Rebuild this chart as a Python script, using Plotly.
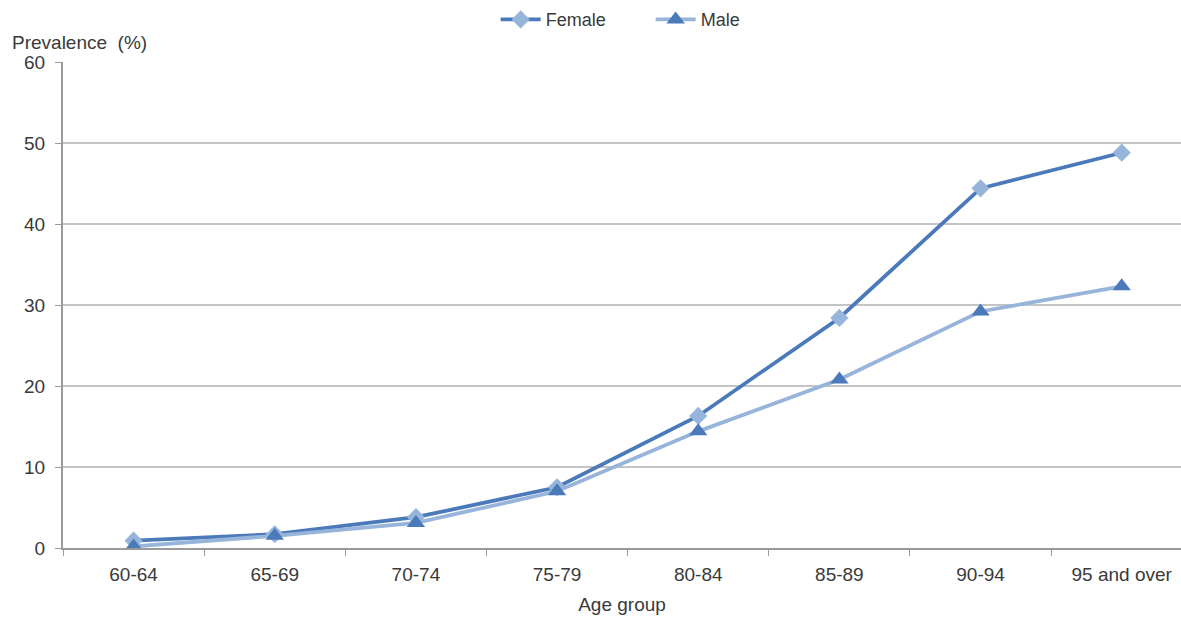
import plotly.graph_objects as go

age_groups = ["60-64", "65-69", "70-74", "75-79", "80-84", "85-89", "90-94", "95 and over"]
female = [0.9, 1.7, 3.8, 7.5, 16.3, 28.4, 44.4, 48.8]
male = [0.2, 1.5, 3.1, 7.0, 14.4, 20.8, 29.2, 32.3]

DARK = "#4a7aba"
LIGHT = "#97b5da"
FONT = "Liberation Sans, Arial, sans-serif"

fig = go.Figure()
fig.add_trace(go.Scatter(
    x=age_groups, y=female, name="Female", mode="lines+markers",
    line=dict(color=DARK, width=3.8),
    marker=dict(symbol="diamond", size=14, color=LIGHT),
))
fig.add_trace(go.Scatter(
    x=age_groups, y=male, name="Male", mode="lines+markers",
    line=dict(color=LIGHT, width=3.8),
    marker=dict(symbol="triangle-up", size=16, color=DARK),
))

fig.update_layout(
    width=1181, height=617,
    margin=dict(l=63, r=0, t=62, b=69, autoexpand=False),
    paper_bgcolor="white", plot_bgcolor="white",
    font=dict(family=FONT, size=19, color="#3a3a3a"),
    legend=dict(orientation="h", x=0.387, xanchor="left", y=1.125, yanchor="top",
                font=dict(size=18), itemwidth=40, tracegroupgap=0,
                entrywidth=100, entrywidthmode="pixels"),
    xaxis=dict(
        range=[-0.5, 7.42], showgrid=False,
        showline=True, linecolor="#9a9a9a", linewidth=2,
        ticks="outside", tickson="boundaries", ticklen=6, tickcolor="#9a9a9a",
        ticklabelstandoff=8,
        title=dict(text="Age group", font=dict(size=19), standoff=14),
    ),
    yaxis=dict(
        range=[0, 60], dtick=10,
        showgrid=True, gridcolor="#c4c4c4", gridwidth=2,
        showline=True, linecolor="#9a9a9a", linewidth=2,
        ticks="outside", ticklen=6, tickcolor="#9a9a9a",
        ticklabelstandoff=6,
        zeroline=False,
    ),
    annotations=[dict(
        text="Prevalence  (%)", xref="paper", yref="paper",
        x=-0.047, y=1.015, xanchor="left", yanchor="bottom",
        showarrow=False, font=dict(size=19),
    )],
)

fig.write_html("out.html")
